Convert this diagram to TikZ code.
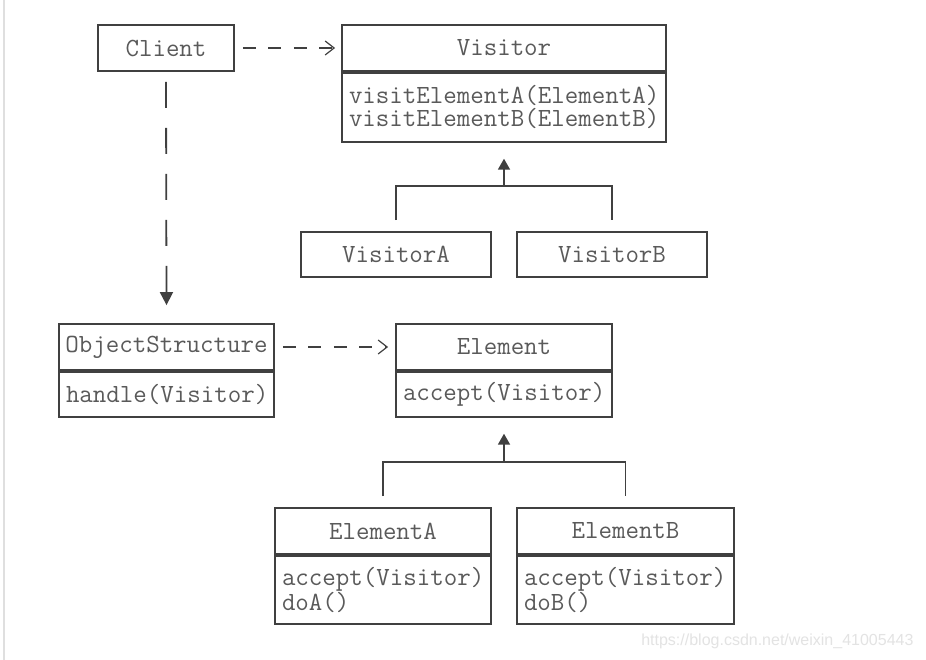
\documentclass[tikz,border=0pt]{standalone}
\usepackage{fontspec}
\usetikzlibrary{arrows.meta,calc}
\definecolor{linec}{HTML}{404040}
\definecolor{textc}{HTML}{5a5a5a}
\tikzset{
  umlbox/.style={draw=linec, line width=1.8pt, rectangle, inner sep=0pt,
    font=\fontsize{26.2}{23}\ttfamily, text=textc},
  umlbody/.style={umlbox, anchor=north, align=left, inner xsep=7pt},
  conn/.style={draw=linec, line width=1.8pt},
  dep/.style={conn, dash pattern=on 13pt off 12.5pt, -{Straight Barb[length=9pt,width=14pt,line width=1.2pt]}},
  longdep/.style={conn, dash pattern=on 26pt off 20pt, -{Triangle[length=13pt,width=13pt]}},
  inherit/.style={conn, -{Triangle[length=11pt,width=12pt]}}
}
\begin{document}
\begin{tikzpicture}[x=1pt,y=-1pt]
\useasboundingbox (0,0) rectangle (926,660);
\fill[white] (0,0) rectangle (926,660);
\draw[gray!25, line width=1.5pt] (4,0) -- (4,660);

% Client
\node[umlbox, minimum width=136pt, minimum height=46pt] (client) at (166,48) {Client};

% Visitor
\node[umlbox, minimum width=324pt, minimum height=46pt] (visitor) at (504,48) {Visitor};
\node[umlbody, minimum width=324pt, minimum height=69pt, text width=310pt] (visitorm) at (visitor.south)
  {visitElementA(ElementA)\\visitElementB(ElementB)};

% VisitorA, VisitorB
\node[umlbox, minimum width=190pt, minimum height=45pt] (visitorA) at (396,254.5) {VisitorA};
\node[umlbox, minimum width=190pt, minimum height=45pt] (visitorB) at (612,254.5) {VisitorB};

% ObjectStructure
\node[umlbox, minimum width=215pt, minimum height=46pt] (os) at (166.5,347) {ObjectStructure};
\node[umlbody, minimum width=215pt, minimum height=45pt, text width=201pt] (osm) at (os.south)
  {handle(Visitor)};

% Element
\node[umlbox, minimum width=216pt, minimum height=46pt] (element) at (504,347) {Element};
\node[umlbody, minimum width=216pt, minimum height=45pt, text width=202pt] (elementm) at (element.south)
  {accept(Visitor)};

% ElementA, ElementB
\node[umlbox, minimum width=216pt, minimum height=46pt] (elA) at (383,531) {ElementA};
\node[umlbody, minimum width=216pt, minimum height=68pt, text width=202pt] (elAm) at (elA.south)
  {accept(Visitor)\\doA()};
\node[umlbox, minimum width=217pt, minimum height=46pt] (elB) at (625.5,531) {ElementB};
\node[umlbody, minimum width=217pt, minimum height=68pt, text width=203pt] (elBm) at (elB.south)
  {accept(Visitor)\\doB()};

% dependencies
\draw[dep] ($(client.east)+(8,0)$) -- ($(visitor.west)+(-6,0)$);
\draw[dep] ($(os.east)+(8,0)$) -- ($(element.west)+(-7,0)$);
\draw[longdep] ($(client.south)+(0,10)$) -- ($(os.north)+(0,-18)$);

% inheritance Visitor
\coordinate (vj) at (504,186);
\draw[conn] ($(visitorA.north)+(0,-11)$) |- (vj) -| ($(visitorB.north)+(0,-11)$);
\draw[inherit] (vj) -- ($(visitorm.south)+(0,16)$);

% inheritance Element
\coordinate (ej) at (504,462);
\draw[conn] ($(elA.north)+(0,-11)$) |- (ej) -| ($(elB.north)+(0,-11)$);
\draw[inherit] (ej) -- ($(elementm.south)+(0,16)$);

% watermark
\node[font=\fontsize{16}{18}\fontspec{Liberation Sans}, text=gray!22, anchor=east] (wm) at (917,641) {https://blog.csdn.net/weixin\_41005443};
\end{tikzpicture}
\end{document}
